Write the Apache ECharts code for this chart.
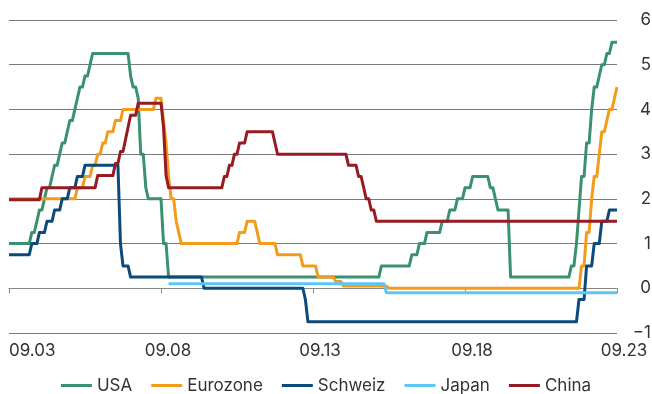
<!DOCTYPE html>
<html>
<head>
<meta charset="utf-8">
<script src="https://cdn.jsdelivr.net/npm/echarts@6/dist/echarts.min.js"></script>
<style>
    body { margin: 0; background: #fff; }
    #rates-chart { width: 652px; height: 394px; }
</style>
</head>
<body>
<div id="rates-chart"></div>
<script>
// Leitzinsen, Monatsende; jeder Eintrag = Monat, ab dem der Satz gilt
var startMonth = '2003-09';
var endMonth = '2023-09';

var usaRates = [
    ['2003-09', 1.0], ['2004-06', 1.25], ['2004-08', 1.5], ['2004-09', 1.75], ['2004-11', 2.0],
    ['2004-12', 2.25], ['2005-02', 2.5], ['2005-03', 2.75], ['2005-05', 3.0], ['2005-06', 3.25],
    ['2005-08', 3.5], ['2005-09', 3.75], ['2005-11', 4.0], ['2005-12', 4.25], ['2006-01', 4.5],
    ['2006-03', 4.75], ['2006-05', 5.0], ['2006-06', 5.25], ['2007-09', 4.75], ['2007-10', 4.5],
    ['2007-12', 4.25], ['2008-01', 3.0], ['2008-03', 2.25], ['2008-04', 2.0], ['2008-10', 1.0],
    ['2008-12', 0.25], ['2015-12', 0.5], ['2016-12', 0.75], ['2017-03', 1.0], ['2017-06', 1.25],
    ['2017-12', 1.5], ['2018-03', 1.75], ['2018-06', 2.0], ['2018-09', 2.25], ['2018-12', 2.5],
    ['2019-07', 2.25], ['2019-09', 2.0], ['2019-10', 1.75], ['2020-03', 0.25], ['2022-03', 0.5],
    ['2022-05', 1.0], ['2022-06', 1.75], ['2022-07', 2.5], ['2022-09', 3.25], ['2022-11', 4.0],
    ['2022-12', 4.5], ['2023-02', 4.75], ['2023-03', 5.0], ['2023-05', 5.25], ['2023-07', 5.5]
];

var euroRates = [
    ['2003-09', 2.0], ['2005-12', 2.25], ['2006-03', 2.5], ['2006-06', 2.75], ['2006-08', 3.0],
    ['2006-10', 3.25], ['2006-12', 3.5], ['2007-03', 3.75], ['2007-06', 4.0], ['2008-07', 4.25],
    ['2008-10', 3.75], ['2008-11', 3.25], ['2008-12', 2.5], ['2009-01', 2.0], ['2009-03', 1.5],
    ['2009-04', 1.25], ['2009-05', 1.0], ['2011-04', 1.25], ['2011-07', 1.5], ['2011-11', 1.25],
    ['2011-12', 1.0], ['2012-07', 0.75], ['2013-05', 0.5], ['2013-11', 0.25], ['2014-06', 0.15],
    ['2014-09', 0.05], ['2016-03', 0.0], ['2022-07', 0.5], ['2022-09', 1.25], ['2022-11', 2.0],
    ['2022-12', 2.5], ['2023-02', 3.0], ['2023-03', 3.5], ['2023-05', 3.75], ['2023-06', 4.0],
    ['2023-08', 4.25], ['2023-09', 4.5]
];

var swissRates = [
    ['2003-09', 0.75], ['2004-06', 1.0], ['2004-09', 1.25], ['2004-12', 1.5], ['2005-03', 1.75],
    ['2005-06', 2.0], ['2005-09', 2.25], ['2005-12', 2.5], ['2006-03', 2.75], ['2007-05', 1.0],
    ['2007-06', 0.5], ['2007-09', 0.25], ['2010-02', 0.0], ['2013-06', -0.25], ['2013-07', -0.75],
    ['2022-06', -0.25], ['2022-09', 0.5], ['2022-12', 1.0], ['2023-03', 1.5], ['2023-06', 1.75]
];

var japanRates = [
    ['2008-12', 0.1], ['2016-02', -0.1]
];

var chinaRates = [
    ['2003-09', 1.98], ['2004-10', 2.25], ['2006-08', 2.52], ['2007-03', 2.79], ['2007-05', 3.06],
    ['2007-07', 3.33], ['2007-08', 3.6], ['2007-09', 3.87], ['2007-12', 4.14], ['2008-10', 3.6],
    ['2008-11', 2.52], ['2008-12', 2.25], ['2010-10', 2.5], ['2010-12', 2.75], ['2011-02', 3.0],
    ['2011-04', 3.25], ['2011-07', 3.5], ['2012-06', 3.25], ['2012-07', 3.0], ['2014-11', 2.75],
    ['2015-03', 2.5], ['2015-05', 2.25], ['2015-06', 2.0], ['2015-08', 1.75], ['2015-10', 1.5]
];

var seriesNames = ['USA', 'Eurozone', 'Schweiz', 'Japan', 'China'];
var seriesColors = ['#3a9170', '#f39c1c', '#0b4a7b', '#5bc6f2', '#961b22'];
var yTicks = [-1, 0, 1, 2, 3, 4, 5, 6];

function monthIndex(s) {
    var p = s.split('-');
    var q = startMonth.split('-');
    return (p[0] - q[0]) * 12 + (p[1] - q[1]);
}

// Stufen: alter Satz gilt bis zum Vormonat der Änderung
function toSteps(changes) {
    var pts = [];
    var last = monthIndex(endMonth);
    for (var i = 0; i < changes.length; i++) {
        var m = monthIndex(changes[i][0]);
        if (i > 0) {
            var prevM = monthIndex(changes[i - 1][0]);
            if (m - 1 > prevM) {
                pts.push([m - 1, changes[i - 1][1]]);
            }
        }
        pts.push([m, changes[i][1]]);
    }
    if (monthIndex(changes[changes.length - 1][0]) < last) {
        pts.push([last, changes[changes.length - 1][1]]);
    }
    return pts;
}

var allRates = [usaRates, euroRates, swissRates, japanRates, chinaRates];

var series = [];
for (var i = 0; i < allRates.length; i++) {
    series.push({
        name: seriesNames[i],
        type: 'line',
        data: toSteps(allRates[i]),
        showSymbol: false,
        symbol: 'none',
        color: seriesColors[i],
        lineStyle: { width: 3, color: seriesColors[i], join: 'round' }
    });
}

var font = 'Inter, "Noto Sans", sans-serif';

var option = {
    animation: false,
    grid: { left: 9, right: 35, top: 20, bottom: 61, outerBoundsMode: 'none' },
    legend: {
        data: seriesNames,
        top: 372,
        left: 'center',
        icon: 'rect',
        itemWidth: 31,
        itemHeight: 3,
        itemGap: 19,
        textStyle: { fontSize: 17, color: '#333', fontFamily: font }
    },
    xAxis: {
        type: 'value',
        min: 0,
        max: monthIndex(endMonth),
        interval: 60,
        axisLine: { show: true, lineStyle: { color: '#888', width: 1 } },
        axisTick: { show: true, length: 5, lineStyle: { color: '#888' } },
        splitLine: { show: false },
        axisLabel: {
            margin: 9,
            showMinLabel: true,
            showMaxLabel: true,
            alignMinLabel: 'left',
            fontSize: 17,
            color: '#333',
            fontFamily: font,
            formatter: function (v) {
                var yr = Math.round(2003 + v / 12) % 100;
                var label = '09.' + (yr < 10 ? '0' + yr : yr);
                return v === 0 ? '{first|' + label + '}' : '{tick|' + label + '}';
            },
            rich: {
                first: { fontSize: 17, color: '#333', fontFamily: font },
                tick: { fontSize: 17, color: '#333', fontFamily: font, padding: [0, 0, 0, 14] }
            }
        }
    },
    yAxis: {
        type: 'value',
        position: 'right',
        min: yTicks[0],
        max: yTicks[yTicks.length - 1],
        interval: 1,
        axisLine: { show: false },
        axisTick: { show: false },
        splitLine: { show: true, lineStyle: { color: '#7a7a7a', width: 1 } },
        axisLabel: {
            margin: 34,
            align: 'right',
            fontSize: 17,
            color: '#333',
            fontFamily: font,
            formatter: function (v) {
                return v < 0 ? '\u2212' + Math.abs(v) : String(v);
            }
        }
    },
    series: series
};

var ratesChart = echarts.init(document.getElementById('rates-chart'));
ratesChart.setOption(option);
</script>
</body>
</html>
